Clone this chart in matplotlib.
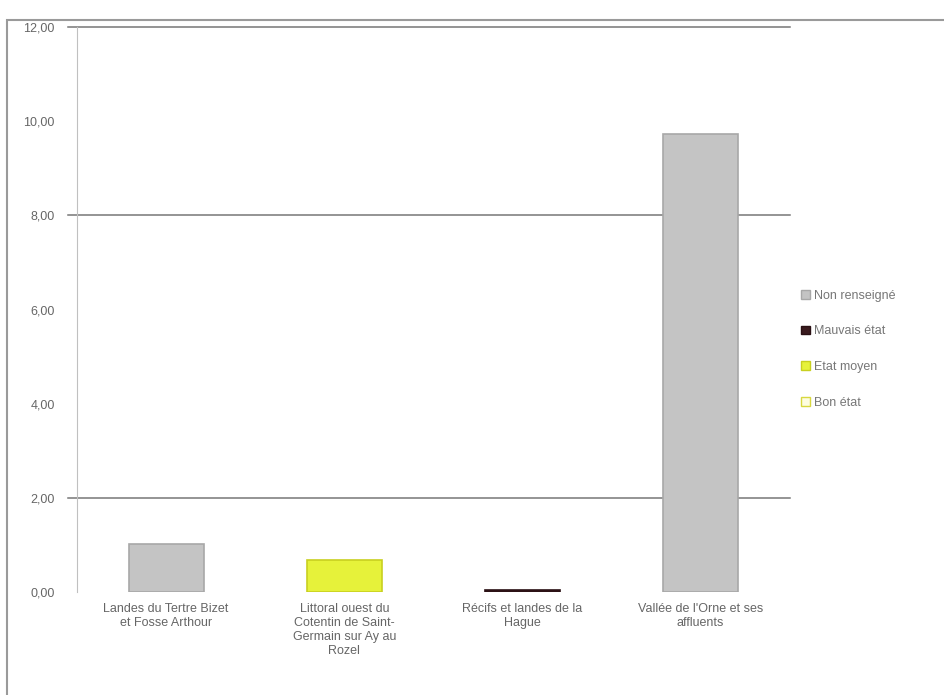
import matplotlib
matplotlib.use("Agg")
import matplotlib.pyplot as plt
import numpy as np
from matplotlib.patches import Patch, Rectangle

categories = [
    "Landes du Tertre Bizet\net Fosse Arthour",
    "Littoral ouest du\nCotentin de Saint-\nGermain sur Ay au\nRozel",
    "Récifs et landes de la\nHague",
    "Vallée de l'Orne et ses\naffluents",
]
series_names = ["Non renseigné", "Mauvais état", "Etat moyen", "Bon état"]
non_renseigne = [1.02, 0.0, 0.0, 9.72]
mauvais_etat = [0.0, 0.0, 0.04, 0.0]
etat_moyen = [0.0, 0.68, 0.0, 0.0]
bon_etat = [0.0, 0.0, 0.0, 0.0]
yticks = [0, 2, 4, 6, 8, 10, 12]
grid_at = [2, 8, 12]

colors = ["#c4c4c4", "#3a1a1e", "#e6f23a", "#fdfde0"]
edges = ["#a8a8a8", "#2a1014", "#c8d020", "#d8d840"]

plt.rcParams["font.family"] = ["Liberation Sans", "DejaVu Sans"]

fig = plt.figure(figsize=(9.44, 6.95), dpi=100)
ax = fig.add_axes([0.0816, 0.148, 0.755, 0.813])

x = np.arange(len(categories))
bottom = np.zeros(len(categories))
handles = []
for name, vals, c, e in zip(series_names,
                            [non_renseigne, mauvais_etat, etat_moyen, bon_etat],
                            colors, edges):
    vals = np.array(vals)
    ec = [e if v > 0 else "none" for v in vals]
    ax.bar(x, vals, width=0.42, bottom=bottom, color=c, edgecolor=ec,
           linewidth=1.2)
    handles.append(Patch(facecolor=c, edgecolor=e, linewidth=1.0, label=name))
    bottom += vals

ax.set_ylim(0, 12)
ax.set_xlim(-0.5, 3.5)
ax.set_yticks(yticks, labels=[f"{v:.2f}".replace(".", ",") for v in yticks])
ax.set_xticks(x, labels=categories)
ax.tick_params(axis="both", length=0, colors="#666666", labelsize=9)
ax.tick_params(axis="y", pad=16)
ax.tick_params(axis="x", pad=8)

for g in grid_at:
    ax.plot([-0.012, 1.0], [g, g], transform=ax.get_yaxis_transform(),
            color="#777777", lw=1.1, clip_on=False, zorder=0)

for s in ["top", "right", "bottom"]:
    ax.spines[s].set_visible(False)
ax.spines["left"].set_color("#c0c0c0")

leg = ax.legend(handles=handles, loc="center left", bbox_to_anchor=(1.0, 0.43),
                frameon=False, fontsize=9, labelcolor="#777777",
                handlelength=0.7, handleheight=0.7, handletextpad=0.3,
                labelspacing=1.9)

fig.patches.append(Rectangle((7 / 944, -0.01), 1, 1 - 20 / 695 + 0.01,
                             transform=fig.transFigure, fill=False,
                             edgecolor="#9a9a9a", lw=1.5))

fig.savefig("out.png")
